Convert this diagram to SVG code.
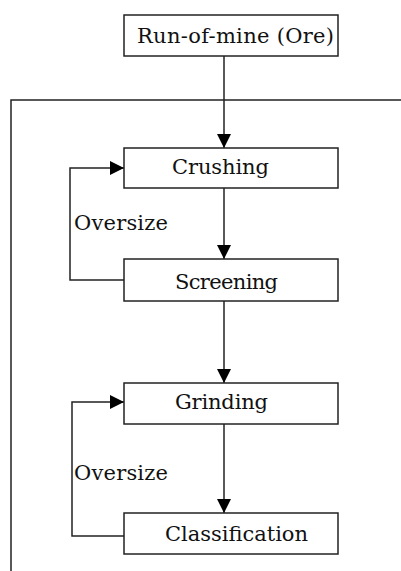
<svg xmlns="http://www.w3.org/2000/svg" width="401" height="571" viewBox="0 0 401 571">
<style>
.box{fill:#fff;stroke:#222;stroke-width:1.5}
.t{font-family:"DejaVu Serif",serif;font-size:21px;fill:#111}
.c{fill:none;stroke:#222;stroke-width:1.5}
</style>
<defs>
<marker id="ah" viewBox="0 0 14 14" refX="14" refY="7" markerWidth="14" markerHeight="14" markerUnits="userSpaceOnUse" orient="auto">
<path d="M0,0 L14,7 L0,14 Z" fill="#000"/>
</marker>
</defs>
<g id="connectors">
<path class="c" d="M11,571 L11,100 L401,100"/>
<path class="c" d="M224,56 L224,148" marker-end="url(#ah)"/>
<path class="c" d="M224,188 L224,259" marker-end="url(#ah)"/>
<path class="c" d="M224,301 L224,383" marker-end="url(#ah)"/>
<path class="c" d="M224,424 L224,513" marker-end="url(#ah)"/>
<path class="c" d="M124,280 L70,280 L70,168 L124,168" marker-end="url(#ah)"/>
<path class="c" d="M124,536 L72,536 L72,402 L124,402" marker-end="url(#ah)"/>
<text class="t" x="74" y="230" textLength="94" lengthAdjust="spacing">Oversize</text>
<text class="t" x="74" y="480" textLength="94" lengthAdjust="spacing">Oversize</text>
</g>
<g id="runofmine">
<rect class="box" x="124" y="15" width="214" height="41"/>
<text class="t" x="137" y="43" textLength="197" lengthAdjust="spacing">Run-of-mine (Ore)</text>
</g>
<g id="crushing">
<rect class="box" x="124" y="148" width="214" height="40"/>
<text class="t" x="172" y="174" textLength="97" lengthAdjust="spacing">Crushing</text>
</g>
<g id="screening">
<rect class="box" x="124" y="259" width="214" height="42"/>
<text class="t" x="175" y="289" textLength="103" lengthAdjust="spacing">Screening</text>
</g>
<g id="grinding">
<rect class="box" x="124" y="383" width="214" height="41"/>
<text class="t" x="175" y="409" textLength="93" lengthAdjust="spacing">Grinding</text>
</g>
<g id="classification">
<rect class="box" x="124" y="513" width="214" height="41"/>
<text class="t" x="165" y="541" textLength="143" lengthAdjust="spacing">Classification</text>
</g>
</svg>
